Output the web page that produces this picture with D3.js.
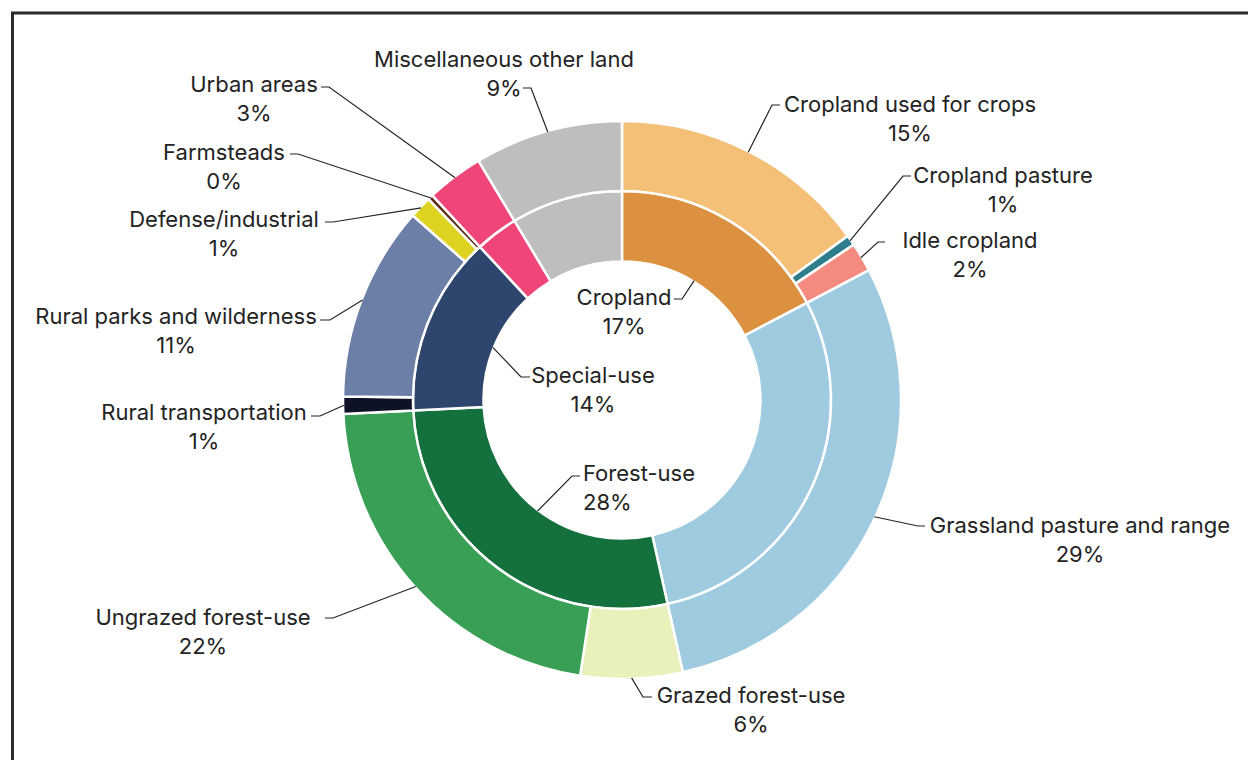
<!DOCTYPE html>
<html>
<head>
<meta charset="utf-8">
<script src="https://cdn.jsdelivr.net/npm/d3@7"></script>
<style>
  body { margin: 0; background: #fff; }
  .lbl { font-family: Inter, "Open Sans", sans-serif; font-size: 22px; fill: #232323; }
  .leader { fill: none; stroke: #232323; stroke-width: 1.2; }
</style>
</head>
<body>
<div class="canvas"></div>
<script>
//DATA - major land uses (inner ring) and their sub-uses (outer ring), percent of land area
var majorNames  = ['Cropland', 'Grassland pasture and range', 'Forest-use', 'Special-use', 'Urban areas', 'Miscellaneous other land'];
var majorValues = [17.3, 29.2, 27.7, 13.9, 3.3, 8.6];
var majorColors = ['#DB913F', '#9ECBE0', '#14703C', '#2E466D', '#EF4579', '#BEBEBE'];

var subNames  = ['Cropland used for crops', 'Cropland pasture', 'Idle cropland', 'Grassland pasture and range',
                 'Grazed forest-use', 'Ungrazed forest-use', 'Rural transportation', 'Rural parks and wilderness',
                 'Defense/industrial', 'Farmsteads', 'Urban areas', 'Miscellaneous other land'];
var subValues = [15.0, 0.6, 1.7, 29.2, 5.9, 21.8, 1.0, 11.3, 1.3, 0.3, 3.3, 8.6];
var subColors = ['#F4BF77', '#2E7D8C', '#F48A80', '#9ECBE0', '#E9F0B9', '#389F55', '#0D1226', '#6C7FA7',
                 '#DFD321', '#5C2B12', '#EF4579', '#BEBEBE'];

//VIZ DIMENSIONS
var w = 1248, h = 760;
var cx = 622, cy = 400;
var r0 = 138.5, r1 = 209, r2 = 279;

var svg = d3.select('.canvas').append('svg')
    .attr('width', w)
    .attr('height', h);

//FRAME (left and top rules)
svg.append('path')
    .attr('d', 'M12.5,' + h + 'V13H' + w)
    .attr('fill', 'none')
    .attr('stroke', '#2a2a2a')
    .attr('stroke-width', 3);

var pie = d3.pie().sort(null).value(d => d);
var innerArc = d3.arc().innerRadius(r0).outerRadius(r1);
var outerArc = d3.arc().innerRadius(r1).outerRadius(r2);

var g = svg.append('g').attr('transform', 'translate(' + cx + ',' + cy + ')');

var majorPie = pie(majorValues);
var subPie = pie(subValues);

g.selectAll('.major')
    .data(majorPie)
    .enter().append('path')
        .attr('class', 'major')
        .attr('d', innerArc)
        .attr('fill', (d, i) => majorColors[i])
        .attr('stroke', '#fff')
        .attr('stroke-width', 2.5);

g.selectAll('.sub')
    .data(subPie)
    .enter().append('path')
        .attr('class', 'sub')
        .attr('d', outerArc)
        .attr('fill', (d, i) => subColors[i])
        .attr('stroke', '#fff')
        .attr('stroke-width', 2.5);

//LABEL LAYOUT: text anchor, first baseline, leader row y, elbow x and end x
var subLayout = [
    { tx: 910,  ty: 112, anchor: 'middle', ly: 105, ex: 772, lx: 780 },
    { tx: 1003, ty: 183, anchor: 'middle', ly: 176, ex: 903, lx: 911 },
    { tx: 970,  ty: 248, anchor: 'middle', ly: 242, ex: 878, lx: 885 },
    { tx: 1080, ty: 533, anchor: 'middle', ly: 526, ex: 918, lx: 925 },
    { tx: 751,  ty: 703, anchor: 'middle', ly: 697, ex: 643, lx: 652 },
    { tx: 203,  ty: 625, anchor: 'middle', ly: 618, ex: 333, lx: 325 },
    { tx: 204,  ty: 420, anchor: 'middle', ly: 416, ex: 320, lx: 311 },
    { tx: 176,  ty: 324, anchor: 'middle', ly: 320, ex: 330, lx: 320 },
    { tx: 224,  ty: 227, anchor: 'middle', ly: 222, ex: 333, lx: 325 },
    { tx: 224,  ty: 160, anchor: 'middle', ly: 154, ex: 298, lx: 290 },
    { tx: 254,  ty: 92,  anchor: 'middle', ly: 87,  ex: 329, lx: 321 },
    { tx: 504,  ty: 67,  anchor: 'middle', ly: 88,  ex: 531, lx: 523 }
];
var majorLayout = [
    { tx: 624, ty: 305, anchor: 'middle', ly: 299, ex: 682, lx: 674 },
    { tx: 1080, ty: 533, anchor: 'middle', ly: null },
    { tx: 583, ty: 481, anchor: 'start', ly: 476, ex: 572, lx: 580 },
    { tx: 593, ty: 383, anchor: 'middle', ly: 377, ex: 521, lx: 530 },
    { tx: 254, ty: 92, anchor: 'middle', ly: null },
    { tx: 504, ty: 67, anchor: 'middle', ly: null }
];

var pct = v => Math.round(v) + '%';

function edgePoint(d, r) {
    var a = (d.startAngle + d.endAngle) / 2;
    return [cx + r * Math.sin(a), cy - r * Math.cos(a)];
}

function drawLabels(arcs, names, layout, r) {
    arcs.forEach((d, i) => {
        var L = layout[i];
        if (L.ly === null) return;
        var p = edgePoint(d, r);
        svg.append('path')
            .attr('class', 'leader')
            .attr('d', 'M' + p[0] + ',' + p[1] + 'L' + L.ex + ',' + L.ly + 'H' + L.lx);
        var t = svg.append('text')
            .attr('class', 'lbl')
            .attr('text-anchor', L.anchor)
            .attr('x', L.tx)
            .attr('y', L.ty);
        t.append('tspan').attr('x', L.tx).text(names[i]);
        t.append('tspan').attr('x', L.tx).attr('dy', 29).text(pct(d.data));
    });
}

drawLabels(subPie, subNames, subLayout, r2 - 1);
drawLabels(majorPie, majorNames, majorLayout, r0 + 1);
</script>
</body>
</html>
